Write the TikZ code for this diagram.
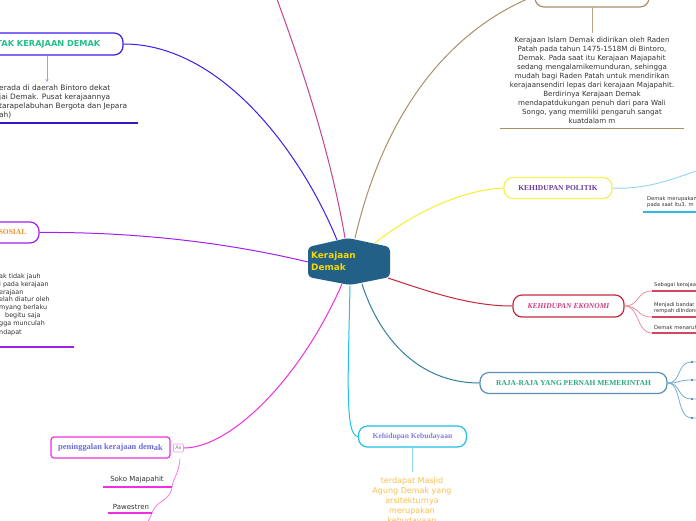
\documentclass[tikz,border=0pt]{standalone}
\usepackage{fontspec}
\setmainfont{Liberation Serif}
\newfontfamily\bodyfont{DejaVu Sans}
\usetikzlibrary{arrows.meta}
\definecolor{cblue}{RGB}{60,30,235}
\definecolor{cletak}{RGB}{34,192,138}
\definecolor{cpink}{RGB}{200,66,140}
\definecolor{ctan}{RGB}{168,144,104}
\definecolor{cyel}{RGB}{248,240,40}
\definecolor{cpolbd}{RGB}{246,240,90}
\definecolor{cpoltx}{RGB}{106,58,160}
\definecolor{ccyl}{RGB}{144,216,232}
\definecolor{ccyu}{RGB}{48,184,232}
\definecolor{ccrim}{RGB}{200,40,60}
\definecolor{cekotx}{RGB}{200,60,130}
\definecolor{cekobr}{RGB}{232,144,160}
\definecolor{cekoul}{RGB}{208,72,96}
\definecolor{cteal}{RGB}{47,126,160}
\definecolor{crajbd}{RGB}{91,143,181}
\definecolor{crajtx}{RGB}{42,168,120}
\definecolor{crajbr}{RGB}{122,174,208}
\definecolor{ccyan}{RGB}{32,192,232}
\definecolor{cbudtx}{RGB}{128,128,224}
\definecolor{cbudln}{RGB}{144,216,240}
\definecolor{corg}{RGB}{248,192,80}
\definecolor{cmag}{RGB}{240,48,224}
\definecolor{cpentx}{RGB}{106,106,224}
\definecolor{cpurp}{RGB}{160,32,240}
\definecolor{csostx}{RGB}{240,144,32}
\definecolor{ccent}{RGB}{35,96,135}
\definecolor{ccenttx}{RGB}{245,216,0}
\definecolor{ctext}{RGB}{51,51,51}
\tikzset{
  topic/.style={draw, line width=1.2pt, rounded corners=9pt, fill=white, inner sep=2pt, font=\bfseries\fontsize{7.5}{9}\selectfont},
  body/.style={font=\bodyfont\fontsize{6.6}{9}\selectfont, text=ctext, inner sep=0pt},
  leftline/.style={font=\bodyfont\fontsize{7.4}{9}\selectfont, text=ctext, inner sep=0pt, anchor=base west},
  sosline/.style={font=\bodyfont\fontsize{6.4}{8}\selectfont, text=ctext, inner sep=0pt, anchor=base west},
  small/.style={font=\bodyfont\fontsize{5.2}{6.2}\selectfont, text=ctext, inner sep=0pt, anchor=south west, align=left},
  branch/.style={line width=1pt},
}
\begin{document}
\begin{tikzpicture}[x=1pt,y=-1pt]
\useasboundingbox (0,0) rectangle (696,520);
\clip (0,0) rectangle (696,520);
\fill[white] (0,0) rectangle (696,520);

% central node
\node[inner sep=0pt, minimum width=82pt, minimum height=46pt] (c) at (349,261) {};
\fill[ccent, rounded corners=4pt] (308,247) -- (348,238) -- (390,247) -- (390,277) -- (350,285) -- (308,277) -- cycle;
\node[anchor=west, align=left, text=ccenttx, font=\bodyfont\bfseries\fontsize{8.9}{11.5}\selectfont, inner sep=0pt] (ct) at (311,261) {Kerajaan\\Demak};

% topic nodes
\node[topic, draw=cblue, text=cletak, font=\bodyfont\bfseries\fontsize{8.2}{10}\selectfont, minimum width=160pt, minimum height=22pt] (letak) at (43,44) {LETAK KERAJAAN DEMAK};
\node[topic, draw=ctan, minimum width=114pt, minimum height=22pt] (top) at (592,-4) {};
\node[topic, draw=cpolbd, text=cpoltx, minimum width=108pt, minimum height=21pt] (pol) at (558,188) {KEHIDUPAN POLITIK};
\node[topic, draw=ccrim, text=cekotx, font=\bfseries\itshape\fontsize{7.5}{9}\selectfont, minimum width=111pt, minimum height=22pt] (eko) at (568.5,306) {KEHIDUPAN EKONOMI};
\node[topic, draw=crajbd, text=crajtx, minimum width=187pt, minimum height=21pt] (raja) at (573.5,383) {RAJA-RAJA YANG PERNAH MEMERINTAH};
\node[topic, draw=ccyan, text=cbudtx, font=\bfseries\fontsize{7.6}{9}\selectfont, minimum width=108pt, minimum height=21pt] (bud) at (412.5,436.5) {Kehidupan Kebudayaan};
\node[topic, draw=cmag, text=cpentx, rounded corners=3pt, font=\bfseries\fontsize{8.4}{10}\selectfont, minimum width=119pt, minimum height=21pt] (pen) at (110.5,447.5) {peninggalan kerajaan dem\raisebox{-1.5pt}{ak}};
\node[draw=cmag!50, line width=0.6pt, rounded corners=1pt, fill=white, text=gray, font=\bodyfont\fontsize{5}{6}\selectfont, inner sep=1pt, minimum width=10pt, minimum height=8pt] (as) at (178.5,448) {As};
\node[topic, draw=cpurp, text=csostx, minimum width=100pt, minimum height=21pt] (sos) at (-11,232.5) {KEHIDUPAN SOSIAL};

% main connectors
\draw[cblue, branch] (337,240) .. controls (300,150) and (220,44) .. (letak.east);
\draw[cpink, branch] (345,238) .. controls (330,150) and (300,60) .. (268,-25);
\draw[ctan, branch] (355,238) .. controls (385,110) and (450,30) .. (top.west);
\draw[cyel, branch] (375,243) .. controls (410,215) and (460,190) .. (pol.west);
\draw[ccrim, branch] (388,278) .. controls (430,292) and (470,306) .. (eko.west);
\draw[cteal, branch] (362,284) .. controls (380,340) and (420,383) .. (raja.west);
\draw[ccyan, branch] (350,286) .. controls (348,380) and (345,436) .. (bud.west);
\draw[cmag, branch] (342,284) .. controls (300,380) and (230,448) .. (as.east);
\draw[cpurp, branch] (308,262) .. controls (200,236) and (100,232) .. (sos.east);

% LETAK details
\coordinate (la) at (47,56);
\coordinate (lb) at (47,82);
\draw[cblue!45, line width=0.7pt, -{Stealth[length=3pt,width=3pt]}] (la) -- (lb);
\node[leftline] (lt1) at (-1,90.5) {erada di daerah Bintoro dekat};
\node[leftline] (lt2) at (-1,99.5) {jai Demak. Pusat kerajaannya};
\node[leftline] (lt3) at (-1,108.5) {tarapelabuhan Bergota dan Jepara};
\node[leftline] (lt4) at (-1,117.5) {ah)};
\coordinate (lu1) at (-5,123); \coordinate (lu2) at (138,123);
\draw[cblue!85!black, line width=1.2pt] (lu1) -- (lu2);

% TOP details
\coordinate (ta) at (592,7); \coordinate (tb) at (592,33);
\draw[ctan!80, line width=0.7pt] (ta) -- (tb);
\node[body, anchor=north, align=center, font=\bodyfont\fontsize{7.1}{9}\selectfont] (topt) at (592,37) {Kerajaan Islam Demak didirikan oleh Raden\\Patah pada tahun 1475-1518M di Bintoro,\\Demak. Pada saat itu Kerajaan Majapahit\\sedang mengalamikemunduran, sehingga\\mudah bagi Raden Patah untuk mendirikan\\kerajaansendiri lepas dari kerajaan Majapahit.\\Berdirinya Kerajaan Demak\\mendapatdukungan penuh dari para Wali\\Songo, yang memiliki pengaruh sangat\\kuatdalam m};
\coordinate (tu1) at (500,128.5); \coordinate (tu2) at (684,128.5);
\draw[ctan, line width=1.5pt] (tu1) -- (tu2);

% POLITIK details
\coordinate (pe) at (705,168);
\draw[ccyl, line width=0.9pt] (pol.east) .. controls (650,190) and (680,176) .. (pe);
\node[small] (polt) at (647,208) {Demak merupakan\\pada saat itu3. m};
\coordinate (pu1) at (643,212); \coordinate (pu2) at (700,212);
\draw[ccyu, line width=1.6pt] (pu1) -- (pu2);

% EKONOMI details
\coordinate (e1) at (652,291); \coordinate (e1b) at (700,291);
\coordinate (e2) at (652,317); \coordinate (e2b) at (700,317);
\coordinate (e3) at (652,333); \coordinate (e3b) at (700,333);
\draw[cekobr, line width=0.8pt] (eko.east) .. controls (640,306) and (636,291) .. (e1);
\draw[cekobr, line width=0.8pt] (eko.east) .. controls (640,306) and (636,317) .. (e2);
\draw[cekobr, line width=0.8pt] (eko.east) .. controls (640,306) and (636,333) .. (e3);
\draw[cekoul, line width=1.4pt] (e1) -- (e1b);
\draw[cekoul, line width=1.4pt] (e2) -- (e2b);
\draw[cekoul, line width=1.4pt] (e3) -- (e3b);
\node[small] (ek1) at (654,288) {Sebagai kerajaan};
\node[small] (ek2) at (654,314) {Menjadi bandar\\rempah diIndonesia};
\node[small] (ek3) at (654,330) {Demak menaruh};

% RAJA details
\foreach \yy/\nm in {362/r1, 380/r2, 399/r3, 418/r4} {
  \coordinate (\nm) at (692,\yy);
  \draw[crajbr, line width=0.8pt] (raja.east) .. controls (682,383) and (676,\yy) .. (\nm) -- (700,\yy);
  \fill[cteal] (\nm) circle (1.2pt);
}

% KEBUDAYAAN details
\coordinate (ba) at (412,447); \coordinate (bb) at (412,472);
\draw[cbudln, line width=0.8pt] (ba) -- (bb);
\node[anchor=north, align=center, text=corg, font=\bodyfont\fontsize{8}{10}\selectfont, inner sep=0pt] (budt) at (412,477) {terdapat Masjid\\Agung Demak yang\\arsitekturnya\\merupakan\\kebudayaan};

% PENINGGALAN details
\coordinate (p0) at (180,459);
\coordinate (p1) at (172,487); \coordinate (p1b) at (103,487);
\coordinate (p2) at (152,513); \coordinate (p2b) at (108,513);
\coordinate (p3) at (146,525);
\draw[cmag!70, line width=0.7pt] (p0) .. controls (178,476) and (174,476) .. (p1);
\draw[cmag!70, line width=0.7pt] (p1) .. controls (170,502) and (156,500) .. (p2);
\draw[cmag!70, line width=0.7pt] (p2) .. controls (150,518) .. (p3);
\draw[cmag, line width=1.4pt] (p1) -- (p1b);
\draw[cmag, line width=1.4pt] (p2) -- (p2b);
\node[body, anchor=south, font=\bodyfont\fontsize{7}{8}\selectfont] (soko) at (137,483) {Soko Majapahit};
\node[body, anchor=south, font=\bodyfont\fontsize{7}{8}\selectfont] (paw) at (131,510) {Pawestren};

% SOSIAL details
\node[sosline] (s1) at (-1,278) {ak tidak jauh};
\node[sosline] (s2) at (-1,286) {l pada kerajaan};
\node[sosline] (s3) at (-1,294) {erajaan};
\node[sosline] (s4) at (-1,301.5) {elah diatur oleh};
\node[sosline] (s5) at (-1,309.5) {myang berlaku};
\node[sosline] (s6) at (5,317.5) {begitu saja};
\node[sosline] (s7) at (-1,325.5) {gga munculah};
\node[sosline] (s8) at (-1,334) {ndapat};
\coordinate (su1) at (-5,347); \coordinate (su2) at (74,347);
\draw[cpurp, line width=1.2pt] (su1) -- (su2);
\end{tikzpicture}
\end{document}
